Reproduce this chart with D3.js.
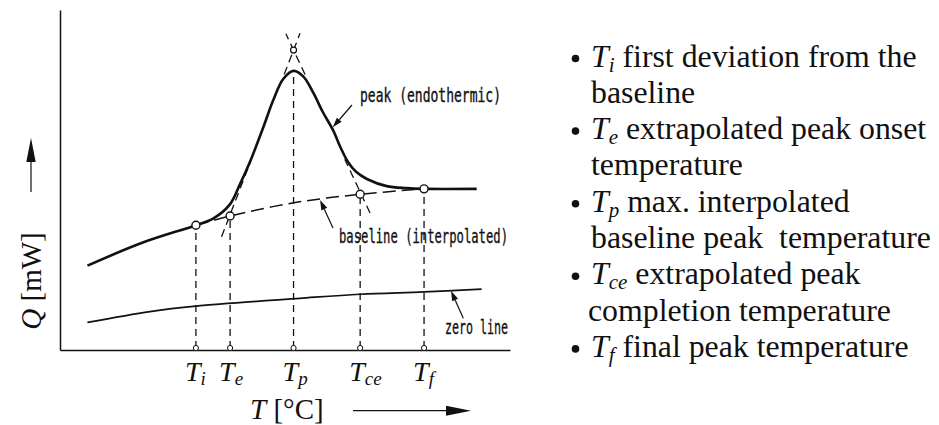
<!DOCTYPE html>
<html>
<head>
<meta charset="utf-8">
<script src="https://cdn.jsdelivr.net/npm/d3@7"></script>
<style>
  html, body { margin: 0; padding: 0; background: #fff; }
  svg { display: block; }
</style>
</head>
<body>
<svg id="chart" width="939" height="425"></svg>
<script>
// ---- data (T and Q in relative units, 0..100 on each axis) ----
// measured DSC signal with an endothermic peak
const peakT = [6.1, 18.4, 30.2, 34.1, 37.8, 40.0, 42.2, 45.2, 47.4, 49.6, 51.9, 54.1, 56.3, 58.4, 60.7, 62.4, 64.0, 65.8, 68.2, 72.6, 77.0, 80.9, 92.6];
const peakQ = [24.8, 31.6, 36.7, 38.7, 42.9, 48.8, 55.3, 65.6, 73.5, 79.7, 82.1, 80.4, 75.6, 70.0, 64.6, 59.4, 55.3, 52.4, 50.3, 48.2, 47.6, 47.4, 47.4];
// interpolated baseline under the peak
const baseT = [30.2, 37.8, 51.9, 66.7, 80.9];
const baseQ = [36.7, 39.4, 43.3, 45.8, 47.4];
// zero line
const zeroT = [6.1, 20.0, 30.2, 53.3, 66.7, 80.9, 93.7];
const zeroQ = [8.1, 11.3, 12.9, 15.2, 16.4, 17.1, 17.9];
// characteristic temperatures
const tickSubs = ["i", "e", "p", "ce", "f"];
const tickT = [30.2, 37.8, 51.9, 66.7, 80.9];
const markQ = [36.7, 39.4, 82.1, 45.8, 47.4];
const markOpen = [true, true, false, true, true];
// tangents through the inflection points, meeting above the peak
const apex = [51.9, 88.2];
const leftTangentStart = [35.9, 33.3];
const rightTangentStart = [68.9, 40.3];
// legend entries: [subscript, text] ; continuation lines have no subscript
const legendLines = [
  ["i", " first deviation from the"],
  [null, "baseline"],
  ["e", " extrapolated peak onset"],
  [null, "temperature"],
  ["p", " max. interpolated"],
  [null, "baseline peak\u00a0 temperature"],
  ["ce", " extrapolated peak"],
  [null, "completion temperature"],
  ["f", " final peak temperature"]
];

const ink = "#111";
const serif = "'Liberation Serif', 'Times New Roman', serif";
const svg = d3.select("#chart");
const x = d3.scaleLinear().domain([0, 100]).range([60, 510]);
const y = d3.scaleLinear().domain([0, 100]).range([350, 10]);

// ---- axes ----
svg.append("g")
  .attr("transform", "translate(0,350)")
  .call(d3.axisBottom(x).tickValues(tickT).tickSize(0).tickSizeOuter(0).tickFormat(""))
  .call(g => g.select(".domain").attr("stroke", ink).attr("stroke-width", 1.5));
svg.append("g")
  .attr("transform", "translate(60,0)")
  .call(d3.axisLeft(y).tickValues([]).tickSizeOuter(0))
  .call(g => g.select(".domain").attr("stroke", ink).attr("stroke-width", 1.5));

const line = d3.line().x(d => x(d[0])).y(d => y(d[1]));
const smooth = d3.line().x(d => x(d[0])).y(d => y(d[1])).curve(d3.curveCatmullRom.alpha(0.5));

// ---- vertical dashed drop lines ----
tickT.forEach((t, i) => {
  svg.append("path")
    .attr("d", line([[t, 0.6], [t, markQ[i]]]))
    .attr("fill", "none").attr("stroke", ink).attr("stroke-width", 1.3)
    .attr("stroke-dasharray", "7,5");
});

// ---- tangents (drawn near the baseline and near the apex) ----
function tangentPart(a, b, t0, t1) {
  const p = t => [a[0] + (b[0] - a[0]) * t, a[1] + (b[1] - a[1]) * t];
  return line([p(t0), p(t1)]);
}
[[leftTangentStart, 0, 0.41], [leftTangentStart, 0.87, 1.09],
 [rightTangentStart, 0, 0.33], [rightTangentStart, 0.85, 1.1]].forEach(([s, t0, t1]) => {
  svg.append("path")
    .attr("d", tangentPart(s, apex, t0, t1))
    .attr("fill", "none").attr("stroke", ink).attr("stroke-width", 1.3)
    .attr("stroke-dasharray", "8,5");
});
svg.append("circle")
  .attr("cx", x(apex[0])).attr("cy", y(apex[1])).attr("r", 3)
  .attr("fill", "#fff").attr("stroke", ink).attr("stroke-width", 1.2);

// ---- zero line ----
svg.append("path")
  .attr("d", smooth(zeroT.map((t, i) => [t, zeroQ[i]])))
  .attr("fill", "none").attr("stroke", ink).attr("stroke-width", 1.7);

// ---- interpolated baseline ----
svg.append("path")
  .attr("d", smooth(baseT.map((t, i) => [t, baseQ[i]])))
  .attr("fill", "none").attr("stroke", ink).attr("stroke-width", 1.5)
  .attr("stroke-dasharray", "13,6");

// ---- measured peak ----
svg.append("path")
  .attr("d", smooth(peakT.map((t, i) => [t, peakQ[i]])))
  .attr("fill", "none").attr("stroke", ink).attr("stroke-width", 2.6)
  .attr("stroke-linejoin", "round");

// ---- markers ----
tickT.forEach((t, i) => {
  svg.append("circle")
    .attr("cx", x(t)).attr("cy", y(0) - 2).attr("r", 2.6)
    .attr("fill", "#fff").attr("stroke", ink).attr("stroke-width", 1);
  if (markOpen[i]) {
    svg.append("circle")
      .attr("cx", x(t)).attr("cy", y(markQ[i])).attr("r", 4)
      .attr("fill", "#fff").attr("stroke", ink).attr("stroke-width", 1.4);
  }
});

// ---- tick labels T_x ----
tickT.forEach((t, i) => {
  const tx = svg.append("text")
    .attr("x", x(t) - 11).attr("y", 380.7)
    .style("font-family", serif)
    .attr("font-style", "italic").attr("fill", ink);
  tx.append("tspan").attr("font-size", 28).text("T");
  tx.append("tspan").attr("font-size", 19).attr("dy", 4).text(tickSubs[i]);
});

// ---- curve annotations with arrows ----
function arrow(x1, y1, x2, y2, len, half) {
  const a = Math.atan2(y2 - y1, x2 - x1);
  const bx = x2 - len * Math.cos(a), by = y2 - len * Math.sin(a);
  svg.append("line").attr("x1", x1).attr("y1", y1).attr("x2", bx).attr("y2", by)
    .attr("stroke", ink).attr("stroke-width", 1.2);
  const nx = -Math.sin(a) * half, ny = Math.cos(a) * half;
  svg.append("path")
    .attr("d", `M${x2},${y2}L${bx + nx},${by + ny}L${bx - nx},${by - ny}Z`)
    .attr("fill", ink);
}
const annot = (tx, ty, txt, w) => svg.append("text")
  .attr("x", tx).attr("y", ty)
  .style("font-family", "'DejaVu Sans Mono', monospace").attr("font-size", 19)
  .attr("textLength", w).attr("lengthAdjust", "spacingAndGlyphs")
  .attr("stroke", ink).attr("stroke-width", 0.35)
  .attr("fill", ink).text(txt);

annot(360, 101.7, "peak (endothermic)", 141);
arrow(352, 105, x(60.6), y(65.5), 10, 3.2);
annot(339, 243.3, "baseline (interpolated)", 169);
arrow(333, 228, x(57.8), y(44.1), 10, 3.2);
annot(445, 334, "zero line", 63);
arrow(463.3, 318.3, x(86.9), y(17.4), 10, 3.2);

// ---- axis titles ----
const xTitle = svg.append("text").attr("x", 250).attr("y", 419)
  .style("font-family", serif).attr("font-size", 29).attr("fill", ink);
xTitle.append("tspan").attr("font-style", "italic").text("T");
xTitle.append("tspan").text(" [°C]");
arrow(353, 410.7, 471, 410.7, 25, 5);

const yTitle = svg.append("text")
  .attr("transform", "translate(41,281) rotate(-90)")
  .attr("text-anchor", "middle")
  .style("font-family", serif).attr("font-size", 29).attr("fill", ink);
yTitle.append("tspan").attr("font-style", "italic").text("Q");
yTitle.append("tspan").text(" [mW]");
arrow(31, 192, 31, 138, 24, 4.7);

// ---- legend ----
const lineGap = 36.3;
legendLines.forEach((ln, i) => {
  const by = 66.5 + i * lineGap;
  const t = svg.append("text").attr("x", i === 7 ? 588 : 591).attr("y", by)
    .style("font-family", serif).attr("font-size", 31.8).attr("fill", ink)
    .style("white-space", "pre");
  if (ln[0]) {
    svg.append("circle").attr("cx", 575.5).attr("cy", by - 8).attr("r", 3.8).attr("fill", ink);
    t.append("tspan").attr("font-style", "italic").text("T");
    t.append("tspan").attr("font-style", "italic").attr("font-size", 21).attr("dy", 5).text(ln[0]);
    t.append("tspan").attr("dy", -5).text(ln[1]);
  } else {
    t.text(ln[1]);
  }
});
</script>
</body>
</html>
